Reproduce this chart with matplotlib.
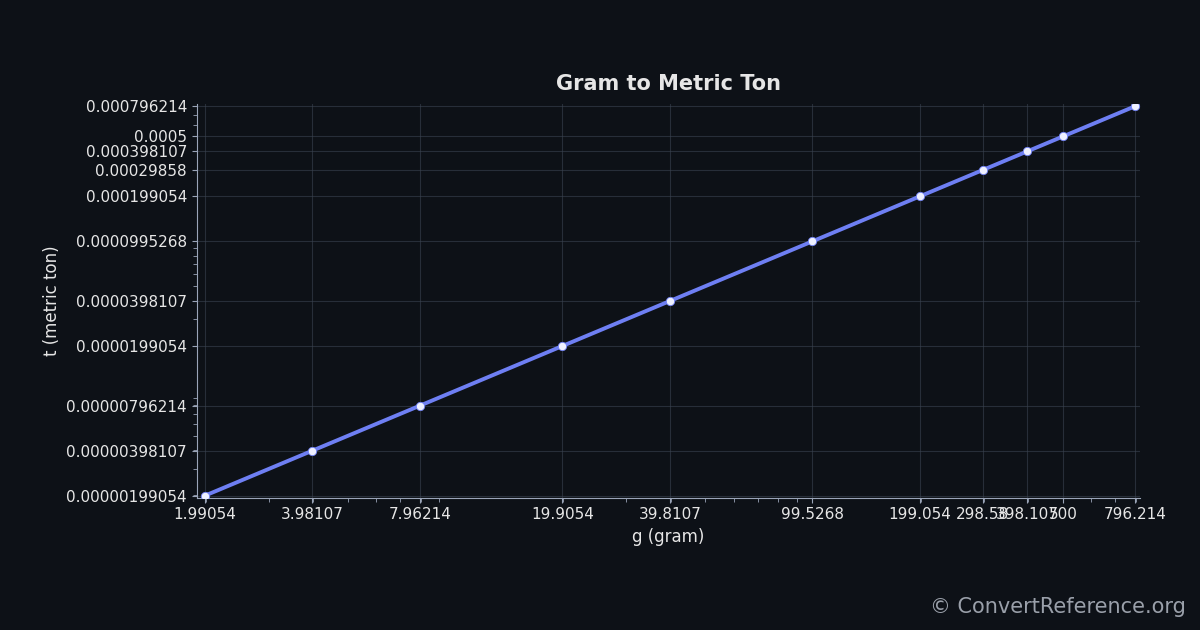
import matplotlib.pyplot as plt
from matplotlib.ticker import FixedLocator, FixedFormatter

plt.rcParams["font.family"] = ["DejaVu Sans"]

grams = [1.99054, 3.98107, 7.96214, 19.9054, 39.8107, 99.5268, 199.054, 298.58, 398.107, 500, 796.214]
tons = [0.00000199054, 0.00000398107, 0.00000796214, 0.0000199054, 0.0000398107, 0.0000995268,
        0.000199054, 0.00029858, 0.000398107, 0.0005, 0.000796214]
x_labels = ["1.99054", "3.98107", "7.96214", "19.9054", "39.8107", "99.5268", "199.054",
            "298.58", "398.107", "500", "796.214"]
y_labels = ["0.00000199054", "0.00000398107", "0.00000796214", "0.0000199054", "0.0000398107",
            "0.0000995268", "0.000199054", "0.00029858", "0.000398107", "0.0005", "0.000796214"]

bg = "#0d1117"
fg = "#e6e6e6"

fig = plt.figure(figsize=(12, 6.3), dpi=100, facecolor=bg)
ax = fig.add_axes([0.164, 0.21, 0.786, 0.625], facecolor=bg)

ax.plot(grams, tons, color="#6e7ff3", lw=2.8, zorder=3)
ax.scatter(grams, tons, s=36, color="#eef0ff", edgecolor="#6e7ff3", linewidth=0.6, zorder=4)

ax.set_xscale("log")
ax.set_yscale("log")
ax.set_xlim(1.89, 822)
ax.set_ylim(1.93e-6, 8.25e-4)

ax.xaxis.set_major_locator(FixedLocator(grams))
ax.xaxis.set_major_formatter(FixedFormatter(x_labels))
ax.yaxis.set_major_locator(FixedLocator(tons))
ax.yaxis.set_major_formatter(FixedFormatter(y_labels))

ax.grid(True, which="major", color="#3a4350", alpha=0.6, lw=0.8)
ax.tick_params(which="both", colors="#9aa4b8", labelcolor=fg, labelsize=11)
ax.tick_params(which="minor", length=3)
for s in ["top", "right"]:
    ax.spines[s].set_visible(False)
for s in ["left", "bottom"]:
    ax.spines[s].set_color("#9aa4b8")

ax.set_title("Gram to Metric Ton", color=fg, fontsize=15, fontweight="bold", pad=10)
ax.set_xlabel("g (gram)", color=fg, fontsize=12)
ax.set_ylabel("t (metric ton)", color=fg, fontsize=12)

fig.text(0.988, 0.02, "© ConvertReference.org", color="#9aa0aa", fontsize=15, ha="right", va="bottom")

fig.savefig("out.png", dpi=100, facecolor=bg)
